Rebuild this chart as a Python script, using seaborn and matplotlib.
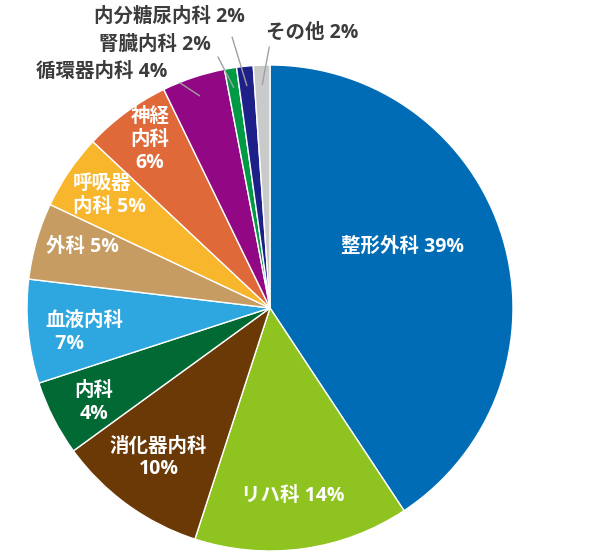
import numpy as np
import matplotlib
matplotlib.use("Agg")
import matplotlib.pyplot as plt
import seaborn as sns

# 診療科ごとの割合（円の面積は図から読み取った値、ラベルは図の表記）
depts = ["整形外科", "リハ科", "消化器内科", "内科", "血液内科", "外科",
         "呼吸器内科", "神経内科", "循環器内科", "腎臓内科", "内分糖尿内科", "その他"]
shares = [40.7, 14.3, 10.0, 5.0, 6.9, 5.1, 5.0, 5.8, 4.2, 0.8, 1.1, 1.1]
pct_labels = [39, 14, 10, 4, 7, 5, 5, 6, 4, 2, 2, 2]
label_text = ["整形外科 39%", "リハ科 14%", "消化器内科\n10%", "内科\n4%", "血液内科\n  7%",
              "外科 5%", "呼吸器\n内科 5%", "神経\n内科\n6%", "循環器内科 4%",
              "腎臓内科 2%", "内分糖尿内科 2%", "その他 2%"]
colors = ["#006cb5", "#8fc31f", "#6a3906", "#006934", "#2ea7e0", "#c69c62",
          "#f8b62d", "#e0693a", "#920783", "#009944", "#1d2088", "#c9caca"]

sns.set_theme(style="white")
plt.rcParams['font.family'] = ['Open Sans', 'Noto Sans CJK JP', 'DejaVu Sans']

fig = plt.figure(figsize=(6, 5.52), dpi=100)
ax = fig.add_axes([0, 0, 1, 1])

wedges, _ = ax.pie(shares, colors=colors, startangle=90, counterclock=False,
                   radius=1.0, wedgeprops=dict(edgecolor="white", linewidth=1))

# ラベル配置（円の半径=1 の座標）
inside_pos = {0: (0.547, 0.251, "center"), 1: (0.095, -0.774, "center"),
              2: (-0.459, -0.617, "center"), 3: (-0.726, -0.387, "center"),
              4: (-0.926, -0.099, "left"), 5: (-0.770, 0.253, "center"),
              6: (-0.811, 0.463, "left"), 7: (-0.494, 0.691, "center")}
for i, (x, y, ha) in inside_pos.items():
    ax.text(x, y, label_text[i], color="white", fontsize=14, fontweight="bold",
            ha=ha, va="center", multialignment=ha, linespacing=1.2)

outside_pos = {8: ((-0.691, 0.971), (-0.370, 0.926)),
               9: ((-0.473, 1.082), (-0.214, 1.033)),
               10: ((-0.412, 1.198), (-0.156, 1.115)),
               11: ((0.173, 1.132), (-0.003, 1.074))}
for i, (txt_xy, line_end) in outside_pos.items():
    w = wedges[i]
    mid = np.deg2rad((w.theta1 + w.theta2) / 2)
    inner = (0.92 * np.cos(mid), 0.92 * np.sin(mid))
    ax.plot([inner[0], line_end[0]], [inner[1], line_end[1]], color="#a0a0a0", lw=1)
    ax.text(txt_xy[0], txt_xy[1], label_text[i], color="#3c3c3c", fontsize=14,
            fontweight="bold", ha="center", va="center")

ax.set_xlim(-270 / 243, 330 / 243)
ax.set_ylim(-244 / 243, 308 / 243)
ax.set_aspect("auto")
ax.axis("off")

fig.savefig("out.png", dpi=100)
